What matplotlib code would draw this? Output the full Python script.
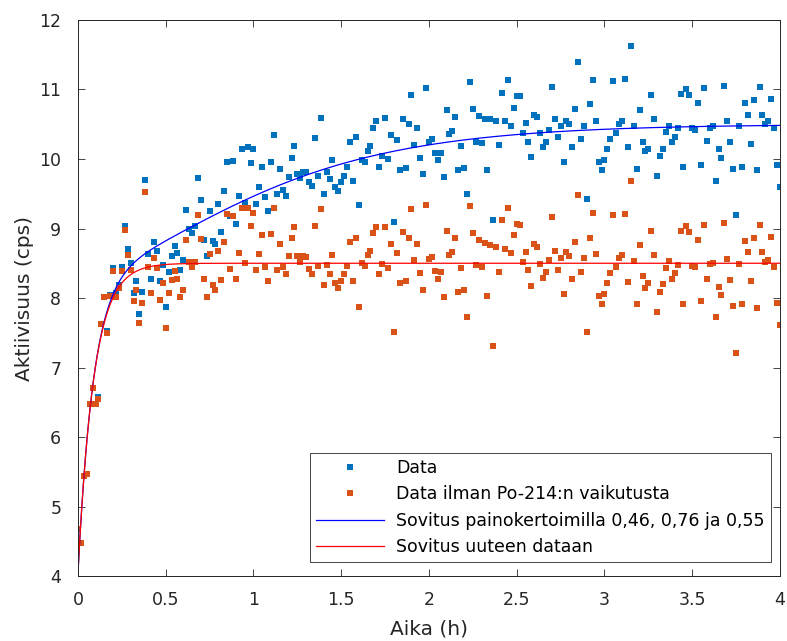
import numpy as np
import matplotlib
matplotlib.use('Agg')
import matplotlib.pyplot as plt

# mittausaika minuutteina (1 min välein)
minutes = np.arange(241)

data = [4.68, 4.47, 5.44, 5.47, 6.47, 6.70, 6.48, 6.57, 7.63, 8.02, 7.53,
        8.04, 8.43, 8.07, 8.19, 8.44, 9.04, 8.70, 8.50, 8.07, 8.24,
        7.77, 8.08, 9.70, 8.64, 8.27, 8.81, 8.67, 8.24, 8.48, 7.87,
        8.38, 8.60, 8.75, 8.65, 8.41, 8.54, 9.27, 8.99, 8.94, 9.03,
        9.72, 9.41, 8.83, 8.60, 9.25, 8.82, 8.77, 9.35, 8.95, 9.54,
        9.95, 9.18, 9.97, 9.07, 9.47, 10.14, 9.37, 10.17, 9.94, 10.15,
        9.35, 9.60, 9.88, 9.45, 9.25, 9.95, 10.34, 9.49, 9.85, 9.55,
        9.47, 9.74, 10.02, 10.19, 9.78, 9.72, 9.82, 9.82, 9.67, 9.61,
        10.30, 9.76, 10.59, 9.50, 9.81, 9.71, 9.99, 9.59, 9.54, 9.67,
        9.76, 9.89, 10.24, 9.69, 10.32, 9.34, 9.99, 9.96, 10.12, 10.19,
        10.45, 10.55, 9.89, 10.04, 10.59, 10.00, 10.35, 9.10, 10.27, 9.84,
        10.57, 9.87, 10.50, 10.92, 10.20, 10.44, 10.02, 9.79, 11.02, 10.25,
        10.29, 10.09, 9.99, 10.09, 9.74, 10.70, 10.36, 10.41, 10.60, 9.84,
        10.19, 9.87, 9.49, 11.11, 10.72, 10.25, 10.62, 10.23, 10.58, 9.84,
        10.57, 9.12, 10.55, 10.20, 10.95, 10.54, 11.14, 10.48, 10.74, 10.90,
        10.90, 10.37, 10.52, 10.25, 10.03, 10.64, 10.60, 10.37, 10.17, 10.25,
        10.42, 11.04, 10.57, 10.31, 10.47, 9.95, 10.55, 10.50, 10.17, 10.72,
        11.39, 10.29, 10.48, 9.42, 10.79, 11.14, 10.55, 9.95, 9.84, 9.99,
        10.14, 10.29, 11.12, 10.37, 10.51, 10.55, 11.15, 10.17, 11.62, 10.47,
        9.86, 10.70, 10.25, 10.11, 10.15, 10.92, 10.57, 9.75, 10.04, 10.15,
        10.39, 10.48, 10.24, 10.32, 10.44, 10.94, 9.89, 11.00, 10.92, 10.44,
        10.42, 10.81, 9.92, 11.02, 10.26, 10.45, 10.47, 9.69, 10.14, 10.02,
        11.05, 10.54, 10.24, 9.86, 9.19, 10.47, 9.89, 10.81, 10.64, 10.22,
        10.85, 9.84, 11.04, 10.64, 10.50, 10.54, 10.87, 10.44, 9.92, 9.60]

# data ilman Po-214:n vaikutusta
data_new = [4.68, 4.47, 5.44, 5.47, 6.47, 6.70, 6.48, 6.55, 7.62, 8.01, 7.50,
            8.03, 8.39, 8.02, 8.15, 8.39, 8.98, 8.62, 8.41, 7.96, 8.12,
            7.64, 7.93, 9.53, 8.45, 8.07, 8.58, 8.43, 7.97, 8.21, 7.57,
            8.07, 8.26, 8.39, 8.28, 8.01, 8.12, 8.83, 8.52, 8.45, 8.52,
            9.19, 8.85, 8.27, 8.01, 8.64, 8.18, 8.11, 8.67, 8.26, 8.81,
            9.21, 8.42, 9.18, 8.27, 8.65, 9.29, 8.51, 9.29, 9.04, 9.23,
            8.41, 8.64, 8.91, 8.45, 8.24, 8.92, 9.29, 8.41, 8.77, 8.45,
            8.35, 8.60, 8.86, 9.02, 8.60, 8.52, 8.60, 8.59, 8.42, 8.34,
            9.03, 8.46, 9.28, 8.18, 8.47, 8.35, 8.62, 8.21, 8.15, 8.25,
            8.34, 8.46, 8.80, 8.24, 8.86, 7.87, 8.50, 8.46, 8.62, 8.67,
            8.93, 9.02, 8.34, 8.49, 9.02, 8.43, 8.77, 7.51, 8.65, 8.22,
            8.95, 8.24, 8.87, 9.28, 8.55, 8.78, 8.36, 8.11, 9.34, 8.56,
            8.59, 8.39, 8.27, 8.37, 8.01, 8.97, 8.62, 8.66, 8.86, 8.08,
            8.43, 8.11, 7.72, 9.33, 8.94, 8.47, 8.83, 8.44, 8.79, 8.03,
            8.76, 7.31, 8.73, 8.38, 9.12, 8.70, 9.30, 8.65, 8.90, 9.06,
            9.05, 8.52, 8.66, 8.40, 8.17, 8.78, 8.73, 8.49, 8.29, 8.38,
            8.54, 9.16, 8.68, 8.41, 8.58, 8.06, 8.66, 8.60, 8.27, 8.81,
            9.48, 8.38, 8.58, 7.51, 8.87, 9.22, 8.64, 8.03, 7.91, 8.06,
            8.21, 8.36, 9.19, 8.44, 8.57, 8.62, 9.21, 8.23, 9.68, 8.53,
            7.91, 8.76, 8.31, 8.15, 8.21, 8.97, 8.62, 7.80, 8.08, 8.20,
            8.43, 8.53, 8.28, 8.36, 8.47, 8.97, 7.92, 9.04, 8.95, 8.46,
            8.45, 8.83, 7.95, 9.05, 8.28, 8.49, 8.50, 7.72, 8.16, 8.04,
            9.08, 8.56, 8.26, 7.88, 7.21, 8.49, 7.91, 8.82, 8.66, 8.24,
            8.87, 7.86, 9.05, 8.66, 8.52, 8.55, 8.88, 8.45, 7.93, 7.61]

# sovitusparametrit (tausta, nopea ja hidas komponentti)
base = 4.05
amp_fast = 4.45
amp_slow = 2.0
lam1 = 11.0                        # 1/h
lam2 = np.log(2) / (26.8 / 60)     # Pb-214
lam3 = np.log(2) / (19.9 / 60)     # Bi-214

t = minutes / 60.0

# Bateman-ketju numeerisesti
t_fit = np.linspace(0, 4, 4001)
dt = t_fit[1] - t_fit[0]
a1 = 1 - np.exp(-lam1 * t_fit)
a2 = np.zeros_like(t_fit)
a3 = np.zeros_like(t_fit)
for k in range(1, len(t_fit)):
    a2[k] = a2[k-1] + dt * lam2 * (a1[k-1] - a2[k-1])
    a3[k] = a3[k-1] + dt * lam3 * (a2[k-1] - a3[k-1])
fit_new = base + amp_fast * a1
fit_old = fit_new + amp_slow * a3

plt.rcParams['font.family'] = ['DejaVu Sans']

fig = plt.figure(figsize=(7.87, 6.41), dpi=100)
ax = fig.add_axes([0.0991, 0.1014, 0.8920, 0.8674])

ax.plot(t, data, 's', color='#0072BD', ms=3.9, mew=0, label='Data')
ax.plot(t, data_new, 's', color='#D95319', ms=3.9, mew=0,
        label='Data ilman Po-214:n vaikutusta')
ax.plot(t_fit, fit_old, '-', color='#0000FF', lw=0.9,
        label='Sovitus painokertoimilla 0,46, 0,76 ja 0,55')
ax.plot(t_fit, fit_new, '-', color='#FF0000', lw=0.9,
        label='Sovitus uuteen dataan')

ax.set_xlim(0, 4)
ax.set_ylim(4, 12)
ax.set_xticks(np.arange(0, 4.01, 0.5))
ax.set_xticklabels(['0', '0.5', '1', '1.5', '2', '2.5', '3', '3.5', '4'])
ax.set_yticks(np.arange(4, 13, 1))
ax.tick_params(direction='in', top=True, right=True, length=5, width=0.6,
               color='#262626', labelcolor='#262626', labelsize=12.5)
ax.tick_params(axis='x', pad=11)
ax.tick_params(axis='y', pad=12)
for s in ax.spines.values():
    s.set_color('#262626')
    s.set_linewidth(0.7)

ax.set_xlabel('Aika (h)', fontsize=14.5, color='#262626', labelpad=7)
ax.set_ylabel('Aktiivisuus (cps)', fontsize=14.5, color='#262626', labelpad=4)

leg = ax.legend(loc='lower right', bbox_to_anchor=(0.987, 0.025),
                borderaxespad=0, fontsize=12.5, fancybox=False,
                framealpha=1, edgecolor='#262626', handlelength=3.9,
                handletextpad=0.7, numpoints=1, borderpad=0.35,
                labelspacing=0.48)
leg.get_frame().set_linewidth(0.6)

fig.savefig('out.png', dpi=100)
